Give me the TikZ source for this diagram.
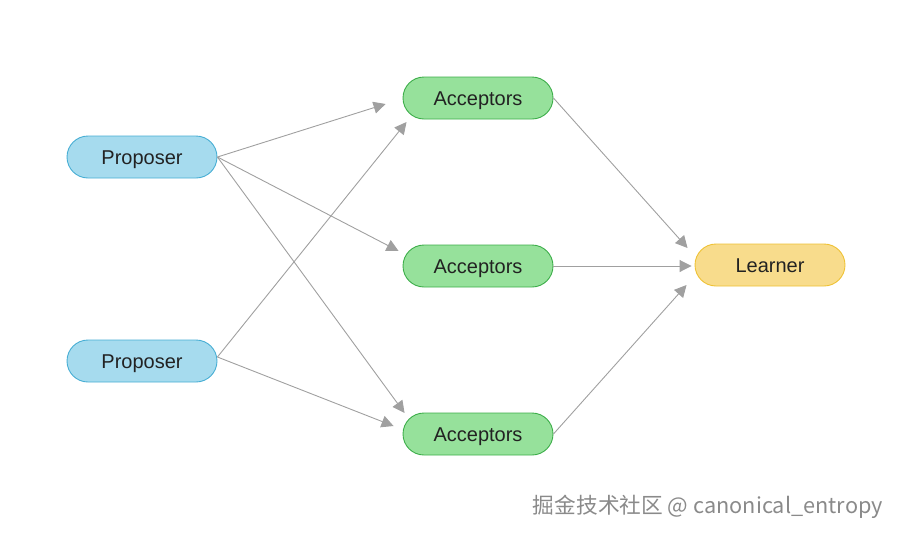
\documentclass[tikz,border=0pt]{standalone}
\usepackage{fontspec}
\setmainfont{Liberation Sans}
\newfontfamily\cjk{Noto Sans CJK SC}
\usetikzlibrary{arrows.meta,shapes.misc}
\definecolor{pfill}{HTML}{A6DBEE}
\definecolor{pdraw}{HTML}{48AED4}
\definecolor{afill}{HTML}{96E19B}
\definecolor{adraw}{HTML}{3DAE4A}
\definecolor{lfill}{HTML}{F8DC8C}
\definecolor{ldraw}{HTML}{EFC235}
\definecolor{txt}{HTML}{222222}
\definecolor{arrc}{HTML}{A0A0A0}
\definecolor{wm}{HTML}{8A8A8A}
\tikzset{
  box/.style={rounded rectangle, minimum width=150pt, minimum height=42pt, inner sep=0pt,
    line width=0.9pt, font=\fontsize{20}{24}\selectfont, text=txt,
    text height=14.3pt, text depth=0pt},
  prop/.style={box, fill=pfill, draw=pdraw},
  acc/.style={box, fill=afill, draw=adraw},
  lrn/.style={box, fill=lfill, draw=ldraw},
  arr/.style={draw=arrc, line width=0.9pt, -{Triangle[length=12pt,width=12pt]}, arrc}
}
\begin{document}
\begin{tikzpicture}[x=1pt,y=-1pt]
\useasboundingbox (0,0) rectangle (900,536);
\node[prop] (p1) at (142,157) {Proposer};
\node[prop] (p2) at (142,361) {Proposer};
\node[acc] (a1) at (478,98) {Acceptors};
\node[acc] (a2) at (478,266) {Acceptors};
\node[acc] (a3) at (478,434) {Acceptors};
\node[lrn] (l) at (770,265) {Learner};
\coordinate (p2o) at ([shift={(0,-4)}]p2.east);
\draw[arr] (p1.east) -- ([shift={(-17,6)}]a1.west);
\draw[arr] (p1.east) -- ([shift={(-4,-15)}]a2.west);
\draw[arr] (p1.east) -- ([shift={(2,-21)}]a3.west);
\draw[arr] (p2o) -- ([shift={(4,24)}]a1.west);
\draw[arr] (p2o) -- ([shift={(-9,-8)}]a3.west);
\draw[arr] (a1.east) -- ([shift={(-7,-17)}]l.west);
\draw[arr] (a2.east) -- ([shift={(-3,1)}]l.west);
\draw[arr] (a3.east) -- ([shift={(-8,20)}]l.west);
\node[anchor=east, text=wm, font=\cjk\fontsize{21.7}{26}\selectfont, inner sep=0pt] (wmk) at (883,507) {掘金技术社区 @ canonical\_entropy};
\end{tikzpicture}
\end{document}
